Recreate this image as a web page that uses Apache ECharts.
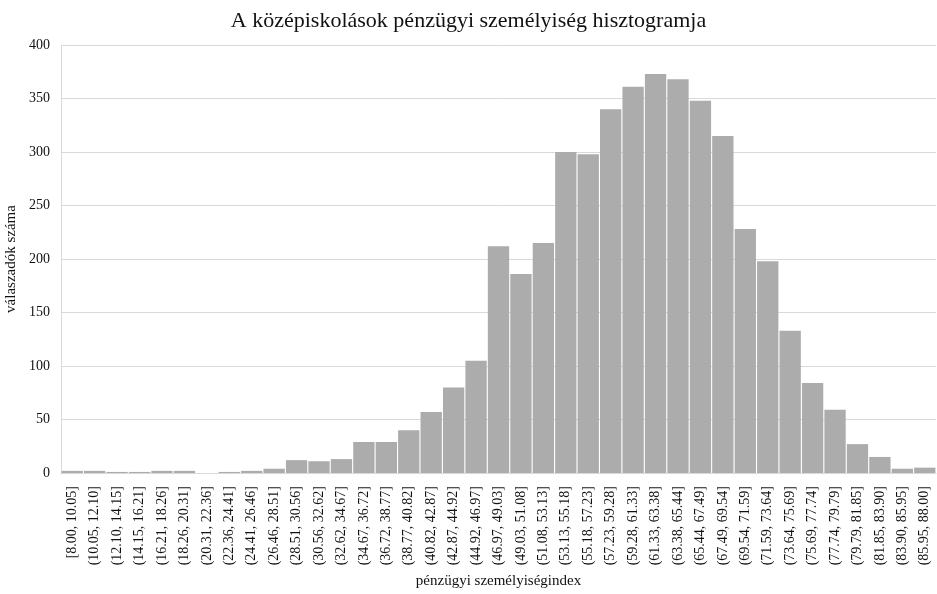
<!DOCTYPE html>
<html><head><meta charset="utf-8">
<script src="https://cdn.jsdelivr.net/npm/echarts@6/dist/echarts.min.js"></script>
<style>html,body{margin:0;padding:0;background:#fff}#c{width:937px;height:594px}</style>
</head><body><div id="c"></div>
<script>
const categories = ["[8.00, 10.05]","(10.05, 12.10]","(12.10, 14.15]","(14.15, 16.21]","(16.21, 18.26]","(18.26, 20.31]","(20.31, 22.36]","(22.36, 24.41]","(24.41, 26.46]","(26.46, 28.51]","(28.51, 30.56]","(30.56, 32.62]","(32.62, 34.67]","(34.67, 36.72]","(36.72, 38.77]","(38.77, 40.82]","(40.82, 42.87]","(42.87, 44.92]","(44.92, 46.97]","(46.97, 49.03]","(49.03, 51.08]","(51.08, 53.13]","(53.13, 55.18]","(55.18, 57.23]","(57.23, 59.28]","(59.28, 61.33]","(61.33, 63.38]","(63.38, 65.44]","(65.44, 67.49]","(67.49, 69.54]","(69.54, 71.59]","(71.59, 73.64]","(73.64, 75.69]","(75.69, 77.74]","(77.74, 79.79]","(79.79, 81.85]","(81.85, 83.90]","(83.90, 85.95]","(85.95, 88.00]"];
const counts = [2,2,1,1,2,2,0,1,2,4,12,11,13,29,29,40,57,80,105,212,186,215,300,298,340,361,373,368,348,315,228,198,133,84,59,27,15,4,5];
const titleText = "A középiskolások pénzügyi személyiség hisztogramja";
const xName = "pénzügyi személyiségindex";
const yName = "válaszadók száma";

const font = "'Liberation Serif','DejaVu Serif',serif";
const chart = echarts.init(document.getElementById('c'), null, {renderer:'canvas'});
chart.setOption({
  animation:false,
  backgroundColor:'#fff',
  title:{text:titleText,left:'center',top:5,textStyle:{fontFamily:font,fontSize:22,fontWeight:'normal',color:'#111'}},
  grid:{left:61,right:1,top:45,bottom:121,containLabel:false,outerBoundsMode:'none'},
  xAxis:{type:'category',data:categories,
    name:xName,nameLocation:'middle',nameGap:100,
    nameTextStyle:{fontFamily:font,fontSize:15,color:'#111'},
    axisLine:{show:true,lineStyle:{color:'#d9d9d9',width:1}},
    axisTick:{show:false},
    axisLabel:{rotate:90,interval:0,margin:13,fontFamily:font,fontSize:14,color:'#111'}},
  yAxis:{type:'value',min:0,max:400,interval:50,
    name:yName,nameLocation:'middle',nameGap:40,
    nameTextStyle:{fontFamily:font,fontSize:15,color:'#111'},
    axisLine:{show:true,lineStyle:{color:'#d9d9d9',width:1}},
    axisTick:{show:false},
    axisLabel:{margin:11,fontFamily:font,fontSize:14,color:'#111'},
    splitLine:{show:true,lineStyle:{color:'#d9d9d9',width:1}}},
  series:[{type:'bar',data:counts,barCategoryGap:'5%',
    itemStyle:{color:'#acacac'}}]
});
</script></body></html>
